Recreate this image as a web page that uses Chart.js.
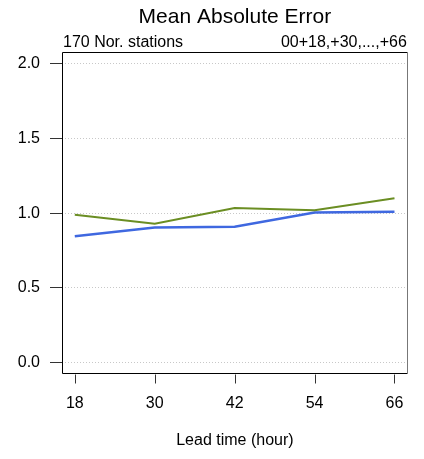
<!DOCTYPE html>
<html><head><meta charset="utf-8">
<script src="https://cdn.jsdelivr.net/npm/chart.js@4/dist/chart.umd.min.js"></script>
<style>html,body{margin:0;padding:0;background:#fff}#wrap{width:424px;height:459px}</style>
</head><body><div id="wrap"><canvas id="c" width="424" height="459"></canvas></div>
<script>
const leadTimes = [18, 30, 42, 54, 66];
const greenSeries = [0.99, 0.93, 1.035, 1.02, 1.10];
const blueSeries = [0.845, 0.905, 0.91, 1.005, 1.01];
const yTicks = [0.0, 0.5, 1.0, 1.5, 2.0];
const titleText = 'Mean Absolute Error';
const leftNote = '170 Nor. stations';
const rightNote = '00+18,+30,...,+66';
const xTitle = 'Lead time (hour)';

const FONT = "'Liberation Sans', Arial, Helvetica, sans-serif";

const decor = {
  id: 'decor',
  afterDraw(chart) {
    const ctx = chart.ctx, a = chart.chartArea, xs = chart.scales.x;
    const L = Math.round(a.left) + 0.5, R = Math.round(a.right) - 0.5;
    const T = Math.round(a.top) + 0.5, B = Math.round(a.bottom) - 0.5;
    ctx.save();
    ctx.lineWidth = 1;
    ctx.strokeStyle = '#000';
    ctx.beginPath();
    ctx.moveTo(R, T); ctx.lineTo(L, T); ctx.lineTo(L, B); ctx.lineTo(R, B);
    ctx.stroke();
    ctx.strokeStyle = '#777';
    ctx.beginPath(); ctx.moveTo(R, T); ctx.lineTo(R, B); ctx.stroke();
    ctx.strokeStyle = '#333';
    leadTimes.forEach(v => {
      const px = Math.round(xs.getPixelForValue(v)) + 0.5;
      ctx.beginPath(); ctx.moveTo(px, B + 1); ctx.lineTo(px, B + 10); ctx.stroke();
    });
    ctx.fillStyle = '#000';
    ctx.font = '21px ' + FONT;
    ctx.textAlign = 'center'; ctx.textBaseline = 'alphabetic';
    ctx.fillText(titleText, (a.left + a.right) / 2, 23);
    ctx.font = '16px ' + FONT;
    ctx.textAlign = 'left';
    ctx.fillText(leftNote, a.left + 1, 47);
    ctx.textAlign = 'right';
    ctx.fillText(rightNote, a.right - 1, 47);
    ctx.restore();
  }
};

new Chart(document.getElementById('c'), {
  type: 'line',
  data: {
    datasets: [
      { label: 'green', data: leadTimes.map((x, i) => ({x, y: greenSeries[i]})), borderColor: '#6b8e23', borderWidth: 2, pointRadius: 0, tension: 0 },
      { label: 'blue', data: leadTimes.map((x, i) => ({x, y: blueSeries[i]})), borderColor: '#3f68e0', borderWidth: 2.5, pointRadius: 0, tension: 0 }
    ]
  },
  options: {
    responsive: false, animation: false,
    layout: { padding: { top: 52, right: 16, left: 0, bottom: 0 } },
    plugins: { legend: { display: false }, tooltip: { enabled: false } },
    scales: {
      x: {
        type: 'linear', min: 16.08, max: 68.0,
        afterBuildTicks(s) { s.ticks = leadTimes.map(v => ({value: v})); },
        afterFit(s) { s.height = 85; },
        grid: { display: false, drawTicks: false },
        border: { display: false },
        ticks: { color: '#000', font: { size: 16, family: FONT }, padding: 20 },
        title: { display: true, text: xTitle, color: '#000', font: { size: 16, family: FONT }, padding: { top: 0, bottom: 9 } }
      },
      y: {
        min: -0.077, max: 2.08,
        afterBuildTicks(s) { s.ticks = yTicks.map(v => ({value: v})); },
        afterFit(s) { s.width = 62; },
        grid: { color: '#c8c8c8', tickColor: '#333', tickLength: 12, tickBorderDash: [] },
        border: { display: false, dash: [1, 2] },
        ticks: { color: '#000', font: { size: 16, family: FONT }, padding: 10, callback: v => v.toFixed(1) }
      }
    }
  },
  plugins: [decor]
});
</script></body></html>
